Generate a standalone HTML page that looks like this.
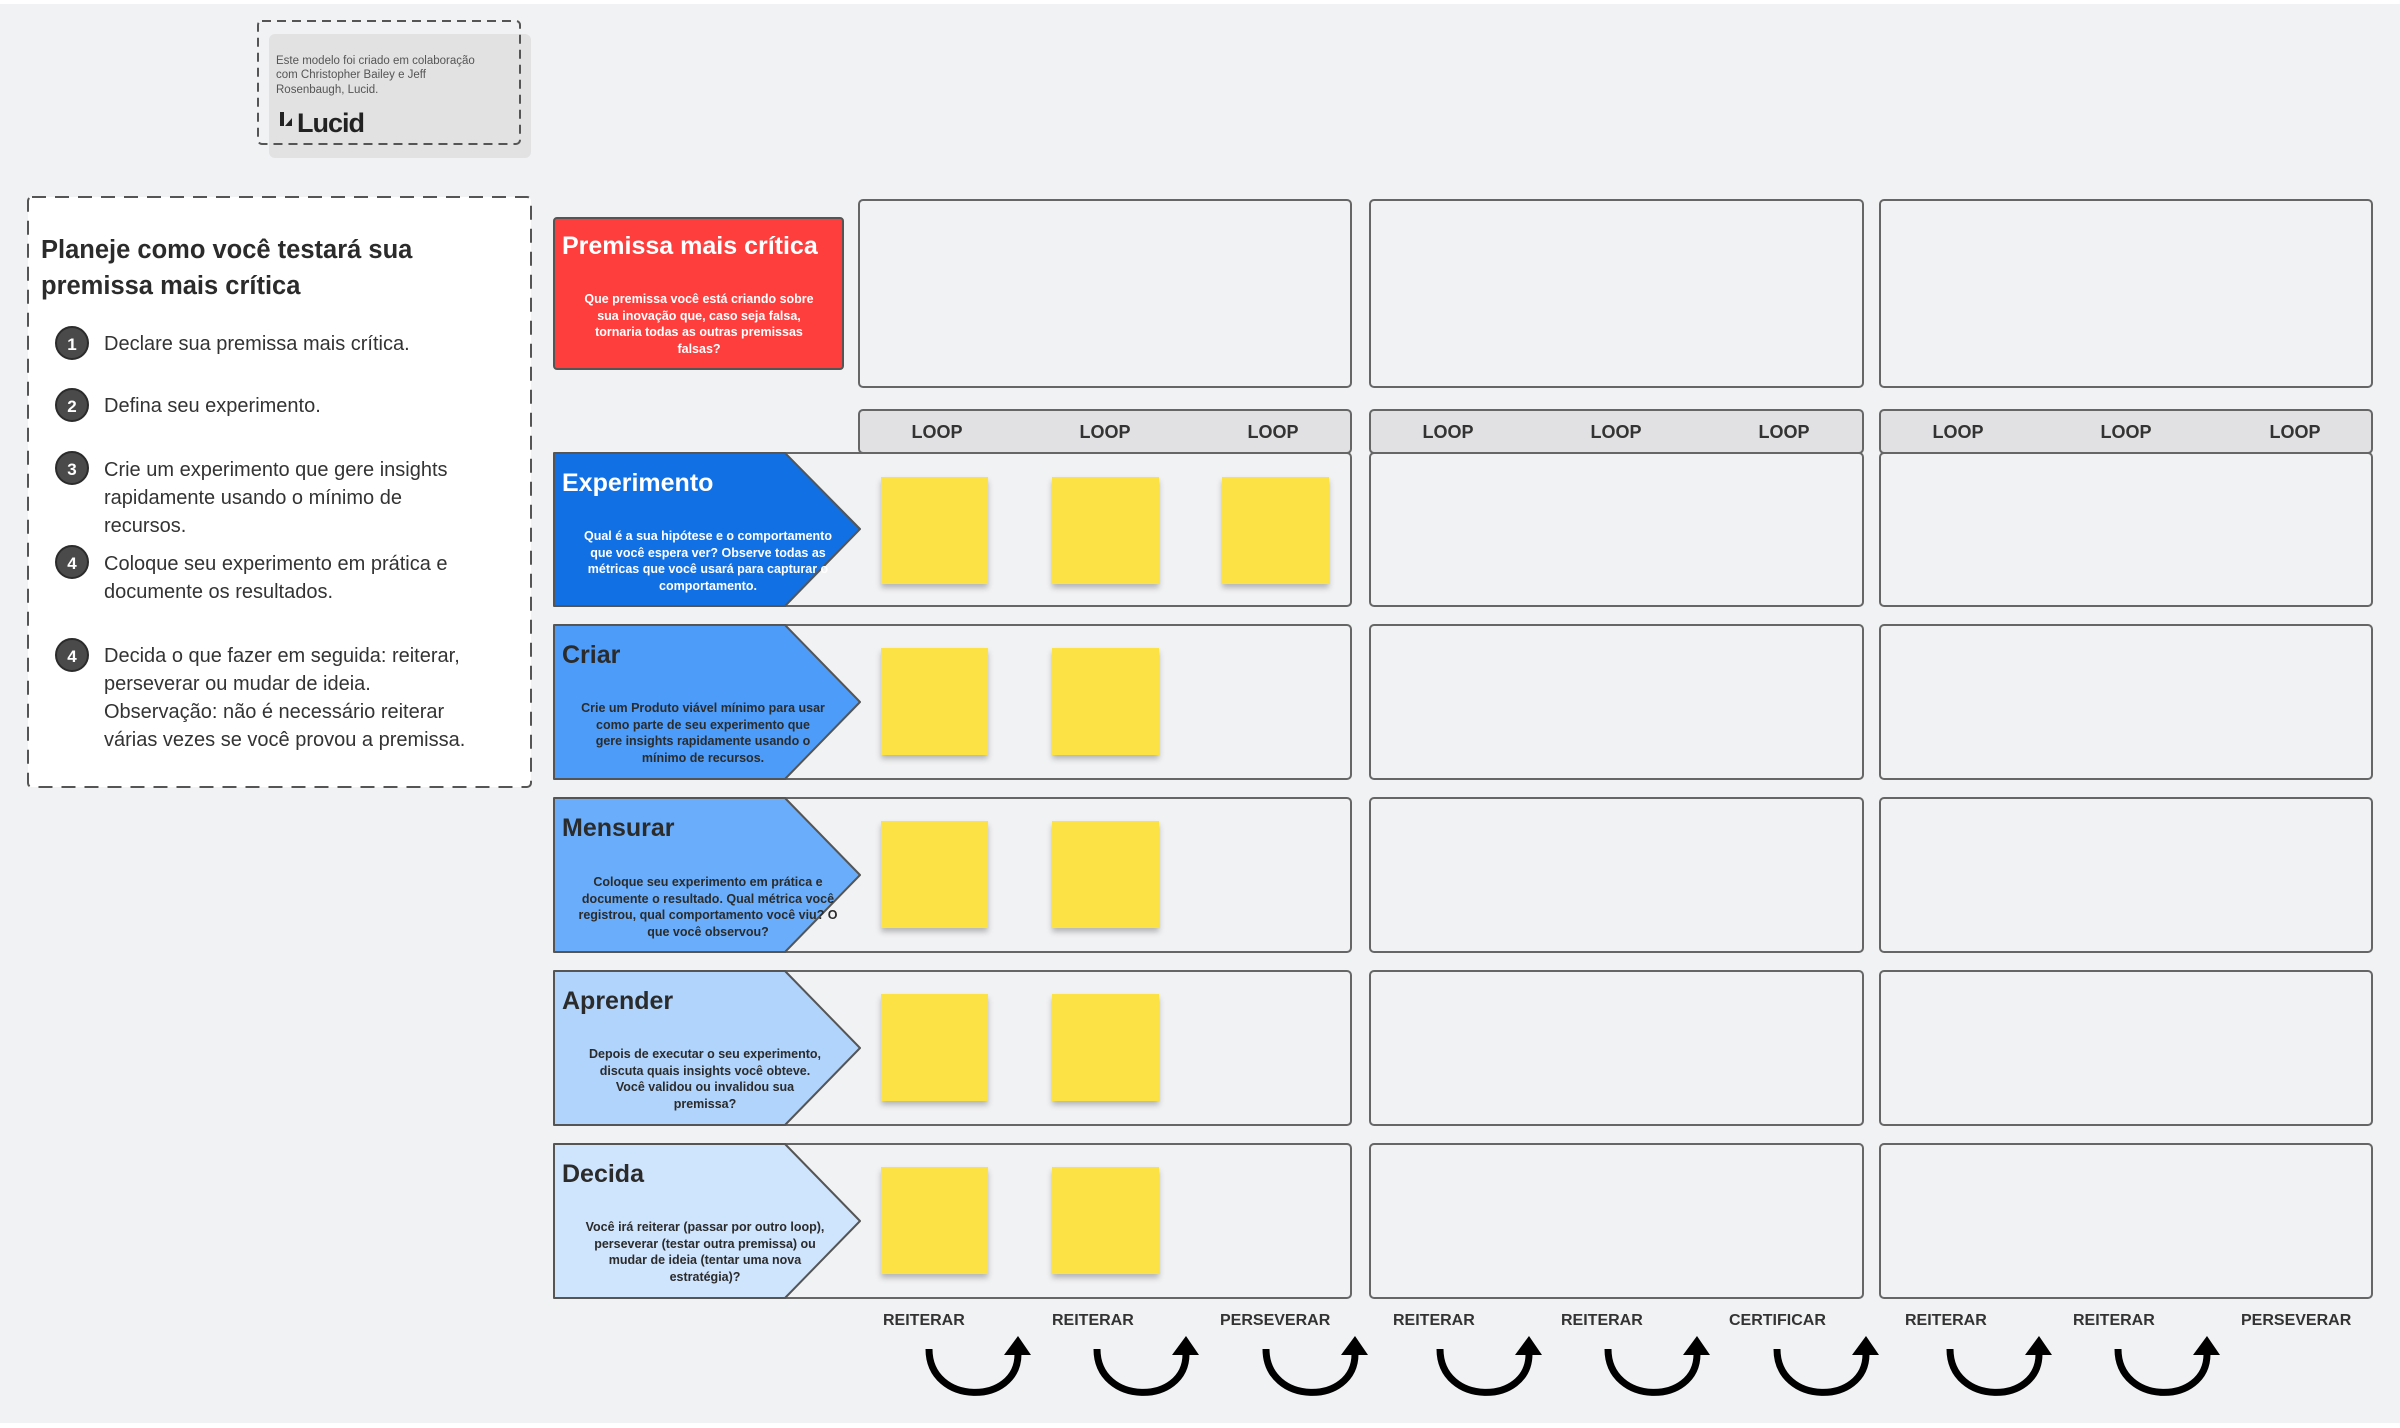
<!DOCTYPE html>
<html><head><meta charset="utf-8"><style>
html,body{margin:0;padding:0;background:#fff;}
svg{display:block;}
text{font-family:"Liberation Sans",sans-serif;}
</style></head><body>
<svg width="2400" height="1428" viewBox="0 0 2400 1428" xmlns="http://www.w3.org/2000/svg">
<defs>
<filter id="sh" x="-20%" y="-20%" width="140%" height="150%"><feDropShadow dx="0" dy="4" stdDeviation="3" flood-color="#000" flood-opacity="0.25"/></filter>
</defs>
<rect x="0" y="4" width="2400" height="1419" fill="#f1f2f4"/>

<!-- credit -->
<rect x="269" y="34" width="262" height="124" rx="6" fill="#e2e2e2"/>
<rect x="258" y="21" width="262" height="123" rx="4" fill="none" stroke="#555" stroke-width="2" stroke-dasharray="9,6"/>
<text x="276" y="64" font-size="11.5" fill="#555">Este modelo foi criado em colaboração</text>
<text x="276" y="78" font-size="11.5" fill="#555">com Christopher Bailey e Jeff</text>
<text x="276" y="93" font-size="11.5" fill="#555">Rosenbaugh, Lucid.</text>
<path d="M280,112 h4 v14 h-4z M285,126 l7,-8 v8z" fill="#222"/>
<text x="297" y="132" font-size="27" font-weight="bold" fill="#222" letter-spacing="-1">Lucid</text>

<!-- instructions -->
<rect x="28" y="197" width="503" height="590" rx="4" fill="#fff" stroke="#555" stroke-width="2" stroke-dasharray="14,9"/>
<text x="41" y="258" font-size="25.5" font-weight="bold" fill="#2b2b2b">Planeje como você testará sua</text>
<text x="41" y="294" font-size="25.5" font-weight="bold" fill="#2b2b2b">premissa mais crítica</text>
<g font-size="20" fill="#333">
<circle cx="72" cy="343" r="16" fill="#4a4a4a" stroke="#2b2b2b" stroke-width="2"/><text x="72" y="350" font-size="17" font-weight="bold" fill="#fff" text-anchor="middle">1</text>
<text x="104" y="350">Declare sua premissa mais crítica.</text>
<circle cx="72" cy="405" r="16" fill="#4a4a4a" stroke="#2b2b2b" stroke-width="2"/><text x="72" y="412" font-size="17" font-weight="bold" fill="#fff" text-anchor="middle">2</text>
<text x="104" y="412">Defina seu experimento.</text>
<circle cx="72" cy="468" r="16" fill="#4a4a4a" stroke="#2b2b2b" stroke-width="2"/><text x="72" y="475" font-size="17" font-weight="bold" fill="#fff" text-anchor="middle">3</text>
<text x="104" y="476">Crie um experimento que gere insights</text>
<text x="104" y="504">rapidamente usando o mínimo de</text>
<text x="104" y="532">recursos.</text>
<circle cx="72" cy="562" r="16" fill="#4a4a4a" stroke="#2b2b2b" stroke-width="2"/><text x="72" y="569" font-size="17" font-weight="bold" fill="#fff" text-anchor="middle">4</text>
<text x="104" y="570">Coloque seu experimento em prática e</text>
<text x="104" y="598">documente os resultados.</text>
<circle cx="72" cy="655" r="16" fill="#4a4a4a" stroke="#2b2b2b" stroke-width="2"/><text x="72" y="662" font-size="17" font-weight="bold" fill="#fff" text-anchor="middle">4</text>
<text x="104" y="662">Decida o que fazer em seguida: reiterar,</text>
<text x="104" y="690">perseverar ou mudar de ideia.</text>
<text x="104" y="718">Observação: não é necessário reiterar</text>
<text x="104" y="746">várias vezes se você provou a premissa.</text>
</g>

<!-- red box -->
<rect x="554" y="218" width="289" height="151" rx="3" fill="#fe3d3d" stroke="#555" stroke-width="2"/>
<text x="562" y="254" font-size="25" font-weight="bold" fill="#fff">Premissa mais crítica</text>
<g font-size="12.5" font-weight="bold" fill="#fff" text-anchor="middle">
<text x="699" y="303">Que premissa você está criando sobre</text>
<text x="699" y="320">sua inovação que, caso seja falsa,</text>
<text x="699" y="336">tornaria todas as outras premissas</text>
<text x="699" y="353">falsas?</text>
</g>

<!-- top boxes -->
<g fill="#f1f2f4" stroke="#666" stroke-width="2">
<rect x="859" y="200" width="492" height="187" rx="4"/>
<rect x="1370" y="200" width="493" height="187" rx="4"/>
<rect x="1880" y="200" width="492" height="187" rx="4"/>
<rect x="859" y="410" width="492" height="43" rx="4" fill="#e1e1e3"/>
<rect x="1370" y="410" width="493" height="43" rx="4" fill="#e1e1e3"/>
<rect x="1880" y="410" width="492" height="43" rx="4" fill="#e1e1e3"/>
</g>
<g font-size="18" font-weight="bold" fill="#333" text-anchor="middle">
<text x="937" y="438">LOOP</text><text x="1105" y="438">LOOP</text><text x="1273" y="438">LOOP</text>
<text x="1448" y="438">LOOP</text><text x="1616" y="438">LOOP</text><text x="1784" y="438">LOOP</text>
<text x="1958" y="438">LOOP</text><text x="2126" y="438">LOOP</text><text x="2295" y="438">LOOP</text>
</g>

<!-- row boxes -->
<g fill="#f1f2f4" stroke="#666" stroke-width="2">
<rect x="780" y="453" width="571" height="153" rx="4"/><rect x="1370" y="453" width="493" height="153" rx="4"/><rect x="1880" y="453" width="492" height="153" rx="4"/>
<rect x="780" y="625" width="571" height="154" rx="4"/><rect x="1370" y="625" width="493" height="154" rx="4"/><rect x="1880" y="625" width="492" height="154" rx="4"/>
<rect x="780" y="798" width="571" height="154" rx="4"/><rect x="1370" y="798" width="493" height="154" rx="4"/><rect x="1880" y="798" width="492" height="154" rx="4"/>
<rect x="780" y="971" width="571" height="154" rx="4"/><rect x="1370" y="971" width="493" height="154" rx="4"/><rect x="1880" y="971" width="492" height="154" rx="4"/>
<rect x="780" y="1144" width="571" height="154" rx="4"/><rect x="1370" y="1144" width="493" height="154" rx="4"/><rect x="1880" y="1144" width="492" height="154" rx="4"/>
</g>

<!-- arrow shapes -->
<g stroke="#555" stroke-width="2" stroke-linejoin="round">
<path d="M554,453 H785 L860,529 L785,606 H554 Z" fill="#1170e4"/>
<path d="M554,625 H785 L860,702 L785,779 H554 Z" fill="#4d9cf9"/>
<path d="M554,798 H785 L860,875 L785,952 H554 Z" fill="#6aaefb"/>
<path d="M554,971 H785 L860,1048 L785,1125 H554 Z" fill="#b1d4fd"/>
<path d="M554,1144 H785 L860,1221 L785,1298 H554 Z" fill="#cfe4fd"/>
</g>

<g font-size="25" font-weight="bold">
<text x="562" y="491" fill="#fff">Experimento</text>
<text x="562" y="663" fill="#2b2b2b">Criar</text>
<text x="562" y="836" fill="#2b2b2b">Mensurar</text>
<text x="562" y="1009" fill="#2b2b2b">Aprender</text>
<text x="562" y="1182" fill="#2b2b2b">Decida</text>
</g>
<g font-size="12.5" font-weight="bold" text-anchor="middle">
<g fill="#fff">
<text x="708" y="540">Qual é a sua hipótese e o comportamento</text>
<text x="708" y="557">que você espera ver? Observe todas as</text>
<text x="708" y="573">métricas que você usará para capturar o</text>
<text x="708" y="590">comportamento.</text>
</g>
<g fill="#2b2b2b">
<text x="703" y="712">Crie um Produto viável mínimo para usar</text>
<text x="703" y="729">como parte de seu experimento que</text>
<text x="703" y="745">gere insights rapidamente usando o</text>
<text x="703" y="762">mínimo de recursos.</text>
<text x="708" y="886">Coloque seu experimento em prática e</text>
<text x="708" y="903">documente o resultado. Qual métrica você</text>
<text x="708" y="919">registrou, qual comportamento você viu? O</text>
<text x="708" y="936">que você observou?</text>
<text x="705" y="1058">Depois de executar o seu experimento,</text>
<text x="705" y="1075">discuta quais insights você obteve.</text>
<text x="705" y="1091">Você validou ou invalidou sua</text>
<text x="705" y="1108">premissa?</text>
<text x="705" y="1231">Você irá reiterar (passar por outro loop),</text>
<text x="705" y="1248">perseverar (testar outra premissa) ou</text>
<text x="705" y="1264">mudar de ideia (tentar uma nova</text>
<text x="705" y="1281">estratégia)?</text>
</g>
</g>

<!-- stickies -->
<g fill="#fde244" filter="url(#sh)">
<rect x="881" y="477" width="107" height="107"/><rect x="1052" y="477" width="107" height="107"/><rect x="1222" y="477" width="107" height="107"/>
<rect x="881" y="648" width="107" height="107"/><rect x="1052" y="648" width="107" height="107"/>
<rect x="881" y="821" width="107" height="107"/><rect x="1052" y="821" width="107" height="107"/>
<rect x="881" y="994" width="107" height="107"/><rect x="1052" y="994" width="107" height="107"/>
<rect x="881" y="1167" width="107" height="107"/><rect x="1052" y="1167" width="107" height="107"/>
</g>

<!-- bottom labels -->
<g font-size="16" font-weight="bold" fill="#333">
<text x="883" y="1325">REITERAR</text><text x="1052" y="1325">REITERAR</text><text x="1220" y="1325">PERSEVERAR</text>
<text x="1393" y="1325">REITERAR</text><text x="1561" y="1325">REITERAR</text><text x="1729" y="1325">CERTIFICAR</text>
<text x="1905" y="1325">REITERAR</text><text x="2073" y="1325">REITERAR</text><text x="2241" y="1325">PERSEVERAR</text>
</g>

<!-- U arrows -->
<defs>
<g id="u">
<path d="M0,13 C0,70 89,70 89,18" fill="none" stroke="#000" stroke-width="7"/>
<path d="M75,19 L89,0 L102,19 Z" fill="#000"/>
</g>
</defs>
<use href="#u" x="929" y="1336"/><use href="#u" x="1097" y="1336"/><use href="#u" x="1266" y="1336"/>
<use href="#u" x="1440" y="1336"/><use href="#u" x="1608" y="1336"/><use href="#u" x="1777" y="1336"/>
<use href="#u" x="1950" y="1336"/><use href="#u" x="2118" y="1336"/>
</svg>
</body></html>
